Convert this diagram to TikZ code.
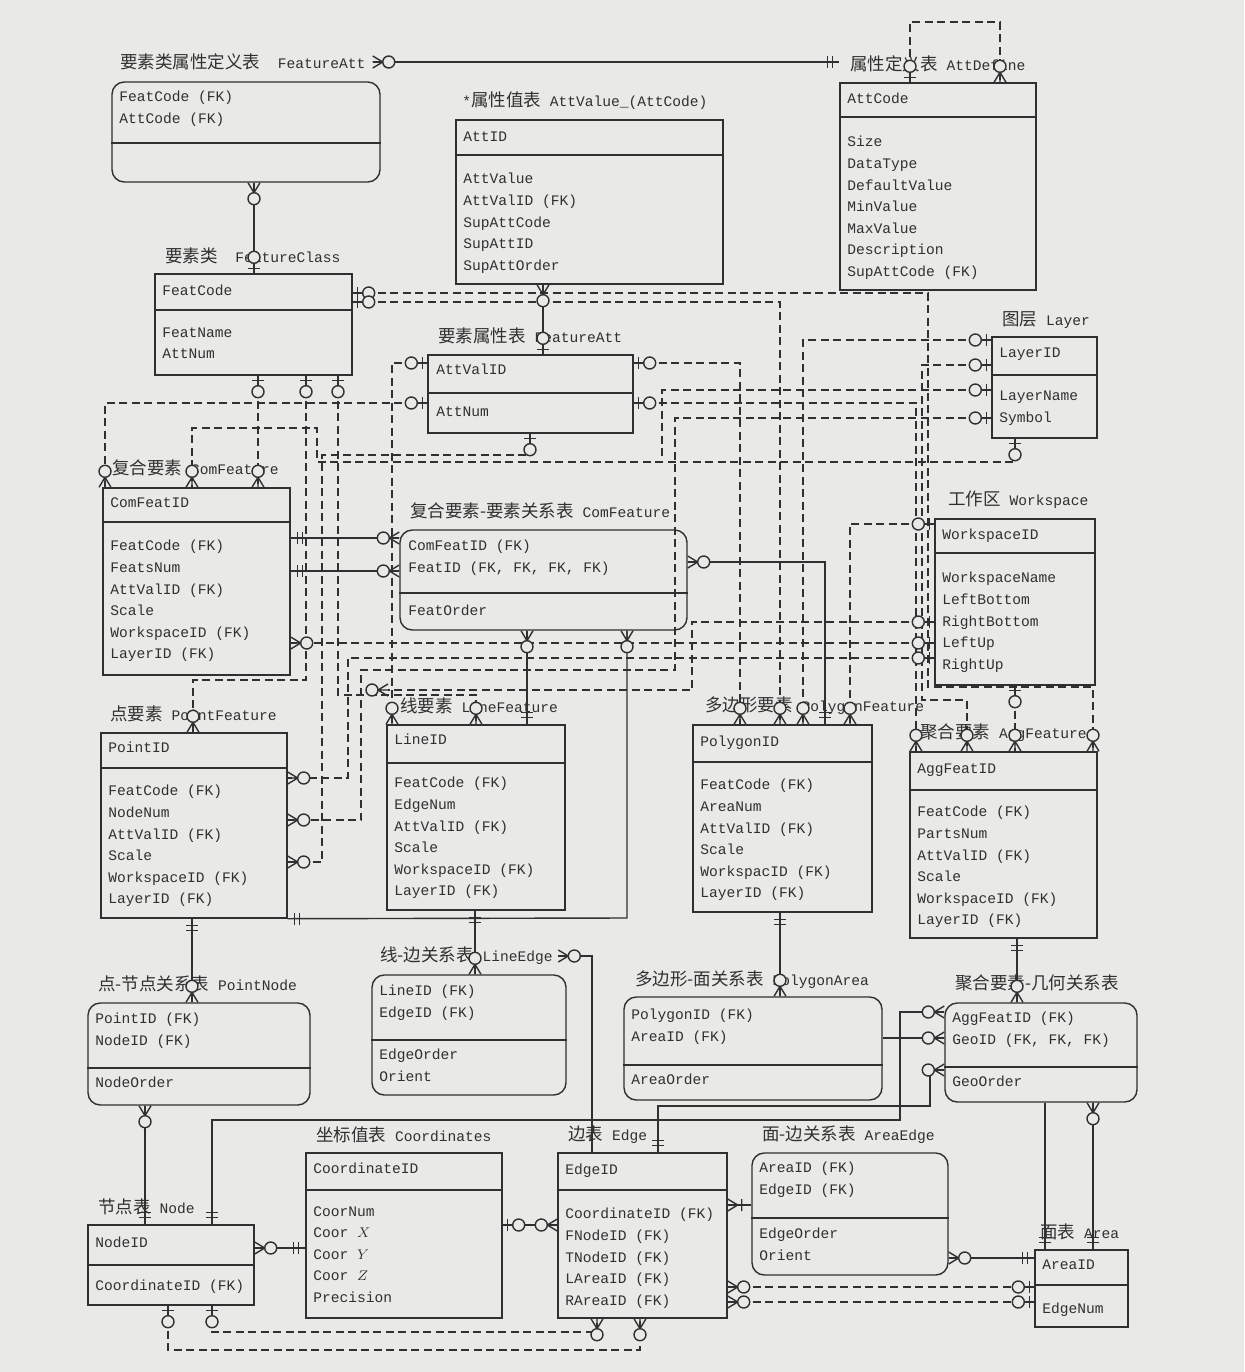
\documentclass[tikz,border=0pt]{standalone}
\usepackage{fontspec}
\setmainfont{Liberation Serif}
\setmonofont{Liberation Mono}
\newfontfamily\cjk[Scale=1.2]{Noto Sans CJK SC}
\usetikzlibrary{fit}
\definecolor{paper}{RGB}{233,233,231}
\definecolor{ink}{RGB}{48,48,48}
\newcommand{\zh}[1]{{\cjk #1}}
\newcommand{\fldfont}{\ttfamily\fontsize{8.3}{12.3}\selectfont}

\begin{document}
\begin{tikzpicture}[x=0.02cm,y=-0.02cm,
  ent/.style={draw=ink,line width=0.8pt,inner sep=0pt},
  rel/.style={ent,rounded corners=7pt},
  fld/.style={font=\fldfont,text=ink,anchor=north west,inner sep=0pt,align=left},
  ttl/.style={font=\fldfont,text=ink,anchor=west,inner sep=0pt},
  idf/.style={draw=ink,line width=0.8pt},
  dep/.style={draw=ink,line width=1pt,dash pattern=on 0.16cm off 0.09cm},
  mk/.style={draw=ink,line width=0.8pt,solid},
  pics/many0/.style={code={
    \draw[mk] (0,-6) -- (10,0) -- (0,6) (0,0) -- (10,0);
    \draw[mk,fill=paper] (16,0) circle[radius=6];}},
  pics/one0/.style={code={
    \draw[mk] (5,-6) -- (5,6) (0,0) -- (10,0);
    \draw[mk,fill=paper] (16,0) circle[radius=6];}},
  pics/one1/.style={code={
    \draw[mk] (7,-6) -- (7,6) (12,-6) -- (12,6);}},
  pics/manyone/.style={code={
    \draw[mk] (0,-6) -- (10,0) -- (0,6) (0,0) -- (14,0) (14,-6) -- (14,6);}}]

\path[use as bounding box] (0,0) rectangle (1244,1372);
\fill[paper] (0,0) rectangle (1244,1372);

% --- attribute tables ----------------------------------------------
\node[ttl] (fcatt-t) at (120,62) {\zh{要素类属性定义表}~~FeatureAtt};
\node[rel,fit={(112,82) (380,182)}] (fcatt) {};
\draw[ent] (fcatt.west |- 0,143) -- (fcatt.east |- 0,143);
\node[fld] at (119,91) {FeatCode (FK)\\AttCode (FK)};

\node[ttl] (attval-t) at (462,101) {*\zh{属性值表} AttValue\_(AttCode)};
\node[ent,fit={(456,120) (723,284)}] (attval) {};
\draw[ent] (attval.west |- 0,155) -- (attval.east |- 0,155);
\node[fld] at (463,131) {AttID};
\node[fld] at (463,173) {AttValue\\AttValID (FK)\\SupAttCode\\SupAttID\\SupAttOrder};

\node[ttl] (attdef-t) at (850,64) {\zh{属性定义表} AttDefine};
\node[ent,fit={(840,83) (1036,290)}] (attdef) {};
\draw[ent] (attdef.west |- 0,117) -- (attdef.east |- 0,117);
\node[fld] at (847,93) {AttCode};
\node[fld] at (847,136) {Size\\DataType\\DefaultValue\\MinValue\\MaxValue\\Description\\SupAttCode (FK)};

\node[ttl] (fclass-t) at (165,256) {\zh{要素类}~~FeatureClass};
\node[ent,fit={(155,274) (352,375)}] (fclass) {};
\draw[ent] (fclass.west |- 0,310) -- (fclass.east |- 0,310);
\node[fld] at (162,285) {FeatCode};
\node[fld] at (162,327) {FeatName\\AttNum};

\node[ttl] (fattr-t) at (438,336) {\zh{要素属性表} FeatureAtt};
\node[ent,fit={(428,355) (633,433)}] (fattr) {};
\draw[ent] (fattr.west |- 0,393) -- (fattr.east |- 0,393);
\node[fld] at (436,364) {AttValID};
\node[fld] at (436,406) {AttNum};

% --- layer and workspace -------------------------------------------
\node[ttl] (layer-t) at (1002,320) {\zh{图层} Layer};
\node[ent,fit={(992,337) (1097,438)}] (layer) {};
\draw[ent] (layer.west |- 0,375) -- (layer.east |- 0,375);
\node[fld] at (999,348) {LayerID};
\node[fld] at (999,391) {LayerName\\Symbol};

\node[ttl] (wspace-t) at (948,500) {\zh{工作区} Workspace};
\node[ent,fit={(935,519) (1095,685)}] (wspace) {};
\draw[ent] (wspace.west |- 0,553) -- (wspace.east |- 0,553);
\node[fld] at (942,529) {WorkspaceID};
\node[fld] at (942,572) {WorkspaceName\\LeftBottom\\RightBottom\\LeftUp\\RightUp};

% --- features --------------------------------------------------------
\node[ttl] (comf-t) at (112,468) {\zh{复合要素} ComFeature};
\node[ent,fit={(103,488) (290,675)}] (comf) {};
\draw[ent] (comf.west |- 0,522) -- (comf.east |- 0,522);
\node[fld] at (110,497) {ComFeatID};
\node[fld] at (110,540) {FeatCode (FK)\\FeatsNum\\AttValID (FK)\\Scale\\WorkspaceID (FK)\\LayerID (FK)};

\node[ttl] (comrel-t) at (410,511) {\zh{复合要素-要素关系表} ComFeature};
\node[rel,fit={(400,530) (687,630)}] (comrel) {};
\draw[ent] (comrel.west |- 0,593) -- (comrel.east |- 0,593);
\node[fld] at (408,540) {ComFeatID (FK)\\FeatID (FK, FK, FK, FK)};
\node[fld] at (408,605) {FeatOrder};

\node[ttl] (pointf-t) at (110,714) {\zh{点要素} PointFeature};
\node[ent,fit={(101,733) (287,918)}] (pointf) {};
\draw[ent] (pointf.west |- 0,768) -- (pointf.east |- 0,768);
\node[fld] at (108,742) {PointID};
\node[fld] at (108,785) {FeatCode (FK)\\NodeNum\\AttValID (FK)\\Scale\\WorkspaceID (FK)\\LayerID (FK)};

\node[ttl] (linef-t) at (400,706) {\zh{线要素} LineFeature};
\node[ent,fit={(387,725) (565,910)}] (linef) {};
\draw[ent] (linef.west |- 0,763) -- (linef.east |- 0,763);
\node[fld] at (394,734) {LineID};
\node[fld] at (394,777) {FeatCode (FK)\\EdgeNum\\AttValID (FK)\\Scale\\WorkspaceID (FK)\\LayerID (FK)};

\node[ttl] (polyf-t) at (705,706) {\zh{多边形要素} PolygonFeature};
\node[ent,fit={(693,725) (872,912)}] (polyf) {};
\draw[ent] (polyf.west |- 0,762) -- (polyf.east |- 0,762);
\node[fld] at (700,736) {PolygonID};
\node[fld] at (700,779) {FeatCode (FK)\\AreaNum\\AttValID (FK)\\Scale\\WorkspacID (FK)\\LayerID (FK)};

\node[ttl] (aggf-t) at (920,733) {\zh{聚合要素} AggFeature};
\node[ent,fit={(910,752) (1097,938)}] (aggf) {};
\draw[ent] (aggf.west |- 0,790) -- (aggf.east |- 0,790);
\node[fld] at (917,763) {AggFeatID};
\node[fld] at (917,806) {FeatCode (FK)\\PartsNum\\AttValID (FK)\\Scale\\WorkspaceID (FK)\\LayerID (FK)};

% --- geometry relation tables ----------------------------------------
\node[ttl] (ptnode-t) at (98,984) {\zh{点-节点关系表} PointNode};
\node[rel,fit={(88,1003) (310,1105)}] (ptnode) {};
\draw[ent] (ptnode.west |- 0,1068) -- (ptnode.east |- 0,1068);
\node[fld] at (95,1013) {PointID (FK)\\NodeID (FK)};
\node[fld] at (95,1077) {NodeOrder};

\node[ttl] (lnedge-t) at (380,956) {\zh{线-边关系表} LineEdge};
\node[rel,fit={(372,975) (566,1095)}] (lnedge) {};
\draw[ent] (lnedge.west |- 0,1040) -- (lnedge.east |- 0,1040);
\node[fld] at (379,985) {LineID (FK)\\EdgeID (FK)};
\node[fld] at (379,1049) {EdgeOrder\\Orient};

\node[ttl] (polyarea-t) at (635,980) {\zh{多边形-面关系表} PolygonArea};
\node[rel,fit={(624,997) (882,1100)}] (polyarea) {};
\draw[ent] (polyarea.west |- 0,1065) -- (polyarea.east |- 0,1065);
\node[fld] at (631,1009) {PolygonID (FK)\\AreaID (FK)};
\node[fld] at (631,1074) {AreaOrder};

\node[ttl] (agggeo-t) at (955,983) {\zh{聚合要素-几何关系表}};
\node[rel,fit={(945,1003) (1137,1102)}] (agggeo) {};
\draw[ent] (agggeo.west |- 0,1067) -- (agggeo.east |- 0,1067);
\node[fld] at (952,1012) {AggFeatID (FK)\\GeoID (FK, FK, FK)};
\node[fld] at (952,1076) {GeoOrder};

% --- coordinates, node, edge, area -----------------------------------
\node[ttl] (coord-t) at (316,1135) {\zh{坐标值表} Coordinates};
\node[ent,fit={(306,1153) (502,1318)}] (coord) {};
\draw[ent] (coord.west |- 0,1190) -- (coord.east |- 0,1190);
\node[fld] at (313,1163) {CoordinateID};
\node[fld] at (313,1206) {CoorNum\\Coor $X$\\Coor $Y$\\Coor $Z$\\Precision};

\node[ttl] (nodetab-t) at (98,1207) {\zh{节点表} Node};
\node[ent,fit={(88,1225) (254,1305)}] (nodetab) {};
\draw[ent] (nodetab.west |- 0,1265) -- (nodetab.east |- 0,1265);
\node[fld] at (95,1237) {NodeID};
\node[fld] at (95,1280) {CoordinateID (FK)};

\node[ttl] (edgetab-t) at (568,1135) {\zh{边表} Edge};
\node[ent,fit={(558,1153) (727,1318)}] (edgetab) {};
\draw[ent] (edgetab.west |- 0,1190) -- (edgetab.east |- 0,1190);
\node[fld] at (565,1164) {EdgeID};
\node[fld] at (565,1208) {CoordinateID (FK)\\FNodeID (FK)\\TNodeID (FK)\\LAreaID (FK)\\RAreaID (FK)};

\node[ttl] (areaedge-t) at (762,1135) {\zh{面-边关系表} AreaEdge};
\node[rel,fit={(752,1153) (948,1275)}] (areaedge) {};
\draw[ent] (areaedge.west |- 0,1218) -- (areaedge.east |- 0,1218);
\node[fld] at (759,1162) {AreaID (FK)\\EdgeID (FK)};
\node[fld] at (759,1228) {EdgeOrder\\Orient};

\node[ttl] (area-t) at (1040,1232) {\zh{面表} Area};
\node[ent,fit={(1035,1250) (1128,1327)}] (area) {};
\draw[ent] (area.west |- 0,1285) -- (area.east |- 0,1285);
\node[fld] at (1042,1260) {AreaID};
\node[fld] at (1042,1303) {EdgeNum};

% --- non-identifying links (dashed) ----------------------------------
\draw[dep] (attdef.north -| 910,0) -- (910,22) -- (1000,22) -- (attdef.north -| 1000,0);
\draw[dep] (fclass.east |- 0,293) -- (928,293) -- (928,687) -- (1093,687) -- (aggf.north -| 1093,0);
\draw[dep] (fclass.east |- 0,302) -- (780,302) -- (polyf.north -| 780,0);
\draw[dep] (fclass.south -| 258,0) -- (comf.north -| 258,0);
\draw[dep] (fclass.south -| 306,0) -- (306,680) -| (pointf.north -| 193,0);
\draw[dep] (fclass.south -| 338,0) -- (338,695) -| (linef.north -| 476,0);
\draw[dep] (fattr.west |- 0,363) -- (392,363) -- (linef.north -| 392,0);
\draw[dep] (fattr.west |- 0,403) -| (comf.north -| 105,0);
\draw[dep] (fattr.south -| 530,0) -- (530,455) -- (322,455) -- (322,862) -- (pointf.east |- 0,862);
\draw[dep] (fattr.east |- 0,363) -- (740,363) -- (polyf.north -| 740,0);
\draw[dep] (fattr.east |- 0,403) -- (916,403) -- (aggf.north -| 916,0);
\draw[dep] (layer.west |- 0,340) -- (803,340) -- (polyf.north -| 803,0);
\draw[dep] (layer.west |- 0,365) -- (922,365) -- (922,700) -- (967,700) -- (aggf.north -| 967,0);
\draw[dep] (layer.west |- 0,390) -- (662,390) -- (662,462) -- (317,462) -- (317,428) -- (192,428) -- (comf.north -| 192,0);
\draw[dep] (layer.west |- 0,418) -- (675,418) -- (675,670) -- (361,670) -- (361,820) -- (pointf.east |- 0,820);
\draw[dep] (layer.south -| 1015,0) -- (1015,462) -- (662,462);
\draw[dep] (wspace.west |- 0,524) -- (850,524) -- (polyf.north -| 850,0);
\draw[dep] (wspace.west |- 0,622) -- (692,622) -- (692,690) -- (388,690);
\draw[dep] (wspace.west |- 0,643) -- (comf.east |- 0,643);
\draw[dep] (wspace.west |- 0,658) -- (348,658) -- (348,778) -- (pointf.east |- 0,778);
\draw[dep] (wspace.south -| 1015,0) -- (aggf.north -| 1015,0);
\draw[dep] (nodetab.south -| 168,0) -- (168,1350) -- (640,1350) -- (edgetab.south -| 640,0);
\draw[dep] (nodetab.south -| 212,0) -- (212,1332) -- (597,1332) -- (edgetab.south -| 597,0);
\draw[dep] (edgetab.east |- 0,1287) -- (area.west |- 0,1287);
\draw[dep] (edgetab.east |- 0,1302) -- (area.west |- 0,1302);

% --- identifying links (solid) ---------------------------------------
\draw[idf] ([xshift=4pt]fcatt-t.east) -- (fcatt-t.east -| attdef.west);
\draw[idf] (fcatt.south -| 254,0) -- (fclass.north -| 254,0);
\draw[idf] (attval.south -| 543,0) -- (fattr.north -| 543,0);
\draw[idf] (comf.east |- 0,538) -- (comrel.west |- 0,538);
\draw[idf] (comf.east |- 0,571) -- (comrel.west |- 0,571);
\draw[idf] (comrel.east |- 0,562) -- (825,562) -- (polyf.north -| 825,0);
\draw[idf] (comrel.south -| 527,0) -- (linef.north -| 527,0);
\draw[idf] (comrel.south -| 627,0) -- (627,918) -- (pointf.south east);
\draw[idf] (pointf.south -| 192,0) -- (ptnode.north -| 192,0);
\draw[idf] (linef.south -| 475,0) -- (lnedge.north -| 475,0);
\draw[idf] (polyf.south -| 780,0) -- (polyarea.north -| 780,0);
\draw[idf] (aggf.south -| 1017,0) -- (agggeo.north -| 1017,0);
\draw[idf] ([xshift=3pt]lnedge-t.east) -| (edgetab.north -| 592,0);
\draw[idf] (nodetab.north -| 212,0) -- (212,1120) -| (900,1012) -- (agggeo.west |- 0,1012);
\draw[idf] (polyarea.east |- 0,1038) -- (agggeo.west |- 0,1038);
\draw[idf] (edgetab.north -| 658,0) -- (658,1106) -| (930,1070) -- (agggeo.west |- 0,1070);
\draw[idf] (ptnode.south -| 145,0) -- (nodetab.north -| 145,0);
\draw[idf] (nodetab.east |- 0,1248) -- (coord.west |- 0,1248);
\draw[idf] (coord.east |- 0,1225) -- (edgetab.west |- 0,1225);
\draw[idf] (edgetab.east |- 0,1205) -- (areaedge.west |- 0,1205);
\draw[idf] (areaedge.east |- 0,1258) -- (area.west |- 0,1258);
\draw[idf] (agggeo.south -| 1093,0) -- (area.north -| 1093,0);
\draw[idf] (agggeo.south -| 1045,0) -- (area.north -| 1045,0);

% --- end marks -------------------------------------------------------
\pic[rotate=90] at (attdef.north -| 910,0) {one0};
\pic[rotate=90] at (attdef.north -| 1000,0) {many0};
\pic at ([xshift=4pt]fcatt-t.east) {many0};
\pic[rotate=180] at (fcatt-t.east -| attdef.west) {one1};
\pic[rotate=-90] at (fcatt.south -| 254,0) {many0};
\pic[rotate=90] at (fclass.north -| 254,0) {one0};
\pic[rotate=-90] at (attval.south -| 543,0) {many0};
\pic[rotate=90] at (fattr.north -| 543,0) {one0};
\pic at (fclass.east |- 0,293) {one0};
\pic at (fclass.east |- 0,302) {one0};
\foreach \px in {258,306,338} \pic[rotate=-90] at (fclass.south -| \px,0) {one0};
\foreach \py in {363,403} {
  \pic[rotate=180] at (fattr.west |- 0,\py) {one0};
  \pic at (fattr.east |- 0,\py) {one0};}
\pic[rotate=-90] at (fattr.south -| 530,0) {one0};
\foreach \py in {340,365,390,418} \pic[rotate=180] at (layer.west |- 0,\py) {one0};
\pic[rotate=-90] at (layer.south -| 1015,0) {one0};
\foreach \py in {524,622,643,658} \pic[rotate=180] at (wspace.west |- 0,\py) {one0};
\pic[rotate=-90] at (wspace.south -| 1015,0) {one0};
\foreach \px in {105,192,258} \pic[rotate=90] at (comf.north -| \px,0) {many0};
\pic at (comf.east |- 0,643) {many0};
\pic[rotate=90] at (pointf.north -| 193,0) {many0};
\foreach \py in {778,820,862} \pic at (pointf.east |- 0,\py) {many0};
\foreach \px in {392,476} \pic[rotate=90] at (linef.north -| \px,0) {many0};
\pic[rotate=180] at (388,690) {many0};
\foreach \px in {740,780,803,850} \pic[rotate=90] at (polyf.north -| \px,0) {many0};
\foreach \px in {916,967,1015,1093} \pic[rotate=90] at (aggf.north -| \px,0) {many0};
\foreach \py in {538,571} {
  \pic at (comf.east |- 0,\py) {one1};
  \pic[rotate=180] at (comrel.west |- 0,\py) {many0};}
\pic at (comrel.east |- 0,562) {many0};
\pic[rotate=90] at (polyf.north -| 825,0) {one1};
\pic[rotate=-90] at (comrel.south -| 527,0) {many0};
\pic[rotate=90] at (linef.north -| 527,0) {one1};
\pic[rotate=-90] at (comrel.south -| 627,0) {many0};
\pic at (pointf.south east) {one1};
\pic[rotate=-90] at (pointf.south -| 192,0) {one1};
\pic[rotate=90] at (ptnode.north -| 192,0) {many0};
\pic[rotate=-90] at (linef.south -| 475,0) {one1};
\pic[rotate=90] at (lnedge.north -| 475,0) {many0};
\pic[rotate=-90] at (polyf.south -| 780,0) {one1};
\pic[rotate=90] at (polyarea.north -| 780,0) {many0};
\pic[rotate=-90] at (aggf.south -| 1017,0) {one1};
\pic[rotate=90] at (agggeo.north -| 1017,0) {many0};
\pic at ([xshift=3pt]lnedge-t.east) {many0};
\pic[rotate=90] at (nodetab.north -| 212,0) {one1};
\pic[rotate=180] at (agggeo.west |- 0,1012) {many0};
\pic[rotate=180] at (agggeo.west |- 0,1038) {many0};
\pic[rotate=90] at (edgetab.north -| 658,0) {one1};
\pic[rotate=180] at (agggeo.west |- 0,1070) {many0};
\pic[rotate=-90] at (ptnode.south -| 145,0) {many0};
\pic[rotate=90] at (nodetab.north -| 145,0) {one1};
\pic at (nodetab.east |- 0,1248) {many0};
\pic[rotate=180] at (coord.west |- 0,1248) {one1};
\pic at (coord.east |- 0,1225) {one0};
\pic[rotate=180] at (edgetab.west |- 0,1225) {many0};
\pic at (edgetab.east |- 0,1205) {manyone};
\pic at (areaedge.east |- 0,1258) {many0};
\pic[rotate=180] at (area.west |- 0,1258) {one1};
\pic[rotate=-90] at (agggeo.south -| 1093,0) {many0};
\pic[rotate=90] at (area.north -| 1093,0) {one1};
\pic[rotate=90] at (area.north -| 1045,0) {one1};
\foreach \px in {168,212} \pic[rotate=-90] at (nodetab.south -| \px,0) {one0};
\foreach \px in {597,640} \pic[rotate=-90] at (edgetab.south -| \px,0) {many0};
\foreach \py in {1287,1302} {
  \pic at (edgetab.east |- 0,\py) {many0};
  \pic[rotate=180] at (area.west |- 0,\py) {one0};}
\end{tikzpicture}
\end{document}
